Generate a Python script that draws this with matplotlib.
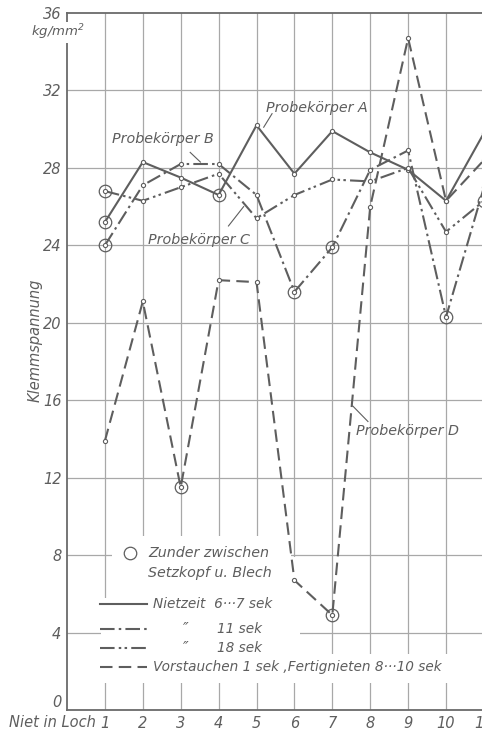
import matplotlib
matplotlib.use("Agg")
import matplotlib.pyplot as plt
from matplotlib.patches import Rectangle

# Niet in Loch 1..11, Klemmspannung in kg/mm^2
niet = [1, 2, 3, 4, 5, 6, 7, 8, 9, 10, 11]
probe_a = [25.2, 28.3, 27.5, 26.6, 30.2, 27.7, 29.9, 28.8, 27.9, 26.3, 29.8]  # 6...7 sek
probe_b = [24.0, 27.1, 28.2, 28.2, 26.6, 21.6, 23.9, 27.9, 28.9, 20.3, 27.0]  # 11 sek
probe_c = [26.8, 26.3, 27.0, 27.7, 25.4, 26.6, 27.4, 27.3, 28.0, 24.7, 26.3]  # 18 sek
probe_d = [13.9, 21.1, 11.5, 22.2, 22.1, 6.7, 4.9, 26.0, 34.7, 26.3, 28.4]    # Vorstauchen
# Niete mit Zunder zwischen Setzkopf und Blech
zunder_a = [1, 4]
zunder_b = [1, 6, 7, 10]
zunder_c = [1, 11]
zunder_d = [3, 7]

yticks = [0, 4, 8, 12, 16, 20, 24, 28, 32, 36]

ink = '#5e5e5e'
gridc = '#a8a8a8'
plt.rcParams['font.family'] = ['DejaVu Sans']
plt.rcParams['font.style'] = 'italic'

fig = plt.figure(figsize=(4.82, 7.34), dpi=100)
ax = fig.add_axes([0.139, 0.0327, 0.865, 0.9496])
ax.set_xlim(0, 11)
ax.set_ylim(0, 36)

# grid
for x in niet:
    ax.axvline(x, color=gridc, lw=0.9, zorder=0.5)
for y in yticks[1:-1]:
    ax.axhline(y, color=gridc, lw=0.9, zorder=0.5)

# blank areas behind the key
for (x0, y0, w, h) in [(1.2, 1.4, 4.7, 7.6), (0.9, 1.4, 0.3, 4.4),
                       (5.9, 1.4, 4.6, 1.5), (5.9, 1.4, 0.25, 6.5)]:
    ax.add_patch(Rectangle((x0, y0), w, h, facecolor='white', edgecolor='none', zorder=1))

styles = {
    'a': '-',
    'b': (0, (7, 2, 1.2, 2)),
    'c': (0, (7, 2, 1.2, 1.6, 1.2, 2)),
    'd': (0, (6, 3)),
}
series = [(probe_a, zunder_a, 'a'), (probe_b, zunder_b, 'b'),
          (probe_c, zunder_c, 'c'), (probe_d, zunder_d, 'd')]
for vals, zund, key in series:
    ax.plot(niet, vals, color=ink, lw=1.5, ls=styles[key], marker='o', ms=3,
            mfc='white', mec=ink, mew=0.8, zorder=3)
    zy = [vals[n - 1] for n in zund]
    ax.plot(zund, zy, ls='none', marker='o', ms=9, mfc='none', mec=ink, mew=0.9, zorder=4)

for s in ['left', 'bottom', 'top']:
    ax.spines[s].set_color('#6a6a6a')
    ax.spines[s].set_linewidth(1.3)
ax.spines['right'].set_visible(False)

ax.set_xticks(niet)
ax.set_xticklabels([str(n) for n in niet], fontsize=10.5, color=ink)
ax.set_yticks(yticks)
ax.set_yticklabels([str(v) for v in yticks], fontsize=10.5, color=ink)
ax.tick_params(length=0, pad=4)
ax.get_yticklabels()[0].set_va('bottom')

ax.text(-0.24, 35.0, 'kg/mm$^2$', fontsize=9.5, color=ink, ha='center', va='center',
        bbox=dict(facecolor='white', edgecolor='none', pad=0.5), zorder=6, clip_on=False)
ax.text(-0.85, 19.1, 'Klemmspannung', rotation=90, fontsize=10.5, color=ink,
        ha='center', va='center', clip_on=False)
ax.text(0.75, -0.65, 'Niet in Loch', fontsize=10.5, color=ink, ha='right', va='center',
        clip_on=False)

# Probekörper labels with leaders
labels = [('Probekörper A', 5.25, 31.1, (5.41, 30.8), (5.19, 30.1)),
          ('Probekörper B', 1.19, 29.5, (3.25, 28.8), (3.52, 28.3)),
          ('Probekörper C', 2.14, 24.3, (4.26, 25.0), (4.66, 26.0)),
          ('Probekörper D', 7.62, 14.4, (7.94, 14.9), (7.54, 15.7))]
for txt, tx, ty, p0, p1 in labels:
    ax.text(tx, ty, txt, fontsize=10.3, color=ink, ha='left', va='center', zorder=6)
    ax.plot([p0[0], p1[0]], [p0[1], p1[1]], color=ink, lw=0.8, zorder=5)

# key
kfs = 9.8
ax.plot([1.67], [8.1], ls='none', marker='o', ms=9, mfc='none', mec=ink, mew=0.9, zorder=6)
ax.text(2.14, 8.1, 'Zunder zwischen', fontsize=kfs + 0.5, color=ink, va='center', zorder=6)
ax.text(2.14, 7.1, 'Setzkopf u. Blech', fontsize=kfs + 0.5, color=ink, va='center', zorder=6)
key_y = [5.5, 4.2, 3.2, 2.2]
for ky, key in zip(key_y, ['a', 'b', 'c', 'd']):
    ax.plot([0.87, 2.12], [ky, ky], color=ink, lw=1.5, ls=styles[key], zorder=6)
ax.text(2.28, 5.5, 'Nietzeit  6···7 sek', fontsize=kfs, color=ink, va='center', zorder=6)
ax.text(3.07, 4.2, '″', fontsize=11, color=ink, va='center', zorder=6)
ax.text(3.97, 4.2, '11 sek', fontsize=kfs, color=ink, va='center', zorder=6)
ax.text(3.07, 3.2, '″', fontsize=11, color=ink, va='center', zorder=6)
ax.text(3.97, 3.2, '18 sek', fontsize=kfs, color=ink, va='center', zorder=6)
ax.text(2.28, 2.2, 'Vorstauchen 1 sek ,Fertignieten 8···10 sek', fontsize=kfs,
        color=ink, va='center', zorder=6)

fig.savefig('out.png', dpi=100)
